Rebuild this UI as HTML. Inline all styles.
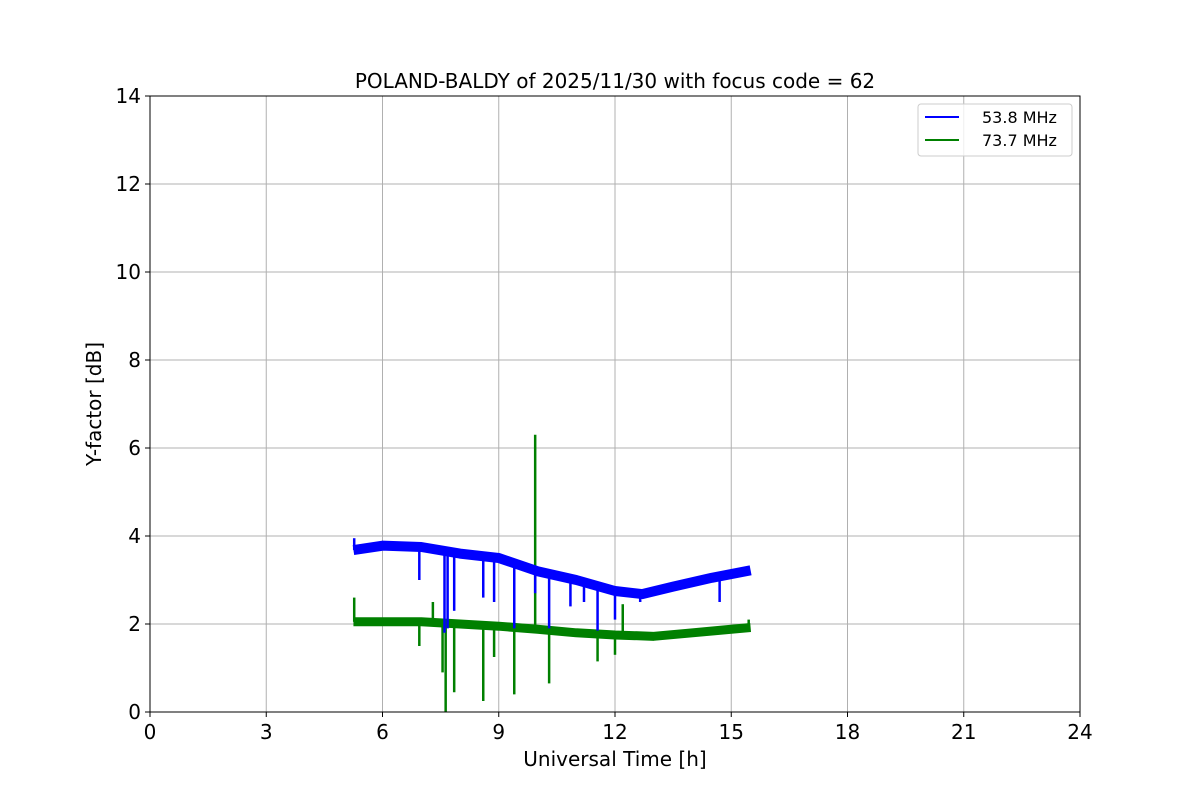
<!DOCTYPE html>
<html><head><meta charset="utf-8"><style>
body{margin:0;background:#fff;}
svg{font-family:"DejaVu Sans","Liberation Sans",sans-serif;display:block;}
</style></head><body>
<svg id="chart" width="1200" height="800">
<rect width="1200" height="800" fill="#fff"/>
<g id="grid"></g><g id="series"></g><g id="axes"></g>
<rect x="150" y="96" width="930" height="616" fill="none" stroke="#000" stroke-width="1"/>
<text x="615" y="88" text-anchor="middle" font-size="20">POLAND-BALDY of 2025/11/30 with focus code = 62</text>
<text x="615" y="766" text-anchor="middle" font-size="20">Universal Time [h]</text>
<text transform="translate(101,404) rotate(-90)" text-anchor="middle" font-size="20">Y-factor [dB]</text>
<g>
<rect x="918" y="104" width="154" height="52" rx="3" fill="#fff" fill-opacity="0.8" stroke="#ccc"/>
<line x1="925" y1="117" x2="959" y2="117" stroke="#0000ff" stroke-width="2"/>
<text x="982" y="123" font-size="16">53.8 MHz</text>
<line x1="925" y1="140" x2="959" y2="140" stroke="#008000" stroke-width="2"/>
<text x="982" y="146" font-size="16">73.7 MHz</text>
</g>
</svg>
<script>
const xTicks=[0,3,6,9,12,15,18,21,24];
const yTicks=[0,2,4,6,8,10,12,14];
const blueT=[5.25,6,7,8,9,10,11,12,12.7,13.5,14.5,15.5];
const blueV=[3.68,3.78,3.75,3.6,3.5,3.2,3.0,2.75,2.68,2.85,3.05,3.22];
const greenT=[5.25,6,7,8,9,10,11,12,13,14,15,15.5];
const greenV=[2.05,2.05,2.05,2.0,1.95,1.88,1.8,1.75,1.72,1.8,1.88,1.92];
const blueDipT=[5.27,6.95,7.6,7.68,7.85,8.6,8.88,9.4,9.94,10.3,10.85,11.2,11.55,12.0,12.65,14.7];
const blueDipV=[3.95,3.0,1.8,1.9,2.3,2.6,2.5,1.9,2.7,1.9,2.4,2.5,1.85,2.1,2.5,2.5];
const greenSpkT=[5.27,6.95,7.3,7.55,7.63,7.85,8.6,8.88,9.4,9.94,10.3,11.55,12.0,12.2,15.45];
const greenSpkV=[2.6,1.5,2.5,0.9,0.0,0.45,0.25,1.25,0.4,6.3,0.65,1.15,1.3,2.45,2.1];
const X0=150,X1=1080,Y0=712,Y1=96;
const sx=t=>X0+(X1-X0)*t/24, sy=v=>Y0-(Y0-Y1)*v/14;
const NS='http://www.w3.org/2000/svg';
function mk(tag,attrs,parent){const e=document.createElementNS(NS,tag);for(const k in attrs)e.setAttribute(k,attrs[k]);parent.appendChild(e);return e;}
const grid=document.getElementById('grid'),ser=document.getElementById('series'),ax=document.getElementById('axes');
xTicks.forEach(t=>{
 const l=mk('line',{x1:sx(t),x2:sx(t),y1:Y1,y2:Y0,stroke:'#b0b0b0','stroke-width':1},grid);
 
 mk('line',{x1:sx(t),x2:sx(t),y1:Y0,y2:Y0+5,stroke:'#000'},ax);
 const tx=mk('text',{x:sx(t),y:Y0+27,'text-anchor':'middle','font-size':20},ax);tx.textContent=t;
 
});
yTicks.forEach(v=>{
 const l=mk('line',{x1:X0,x2:X1,y1:sy(v),y2:sy(v),stroke:'#b0b0b0','stroke-width':1},grid);
 
 mk('line',{x1:X0-5,x2:X0,y1:sy(v),y2:sy(v),stroke:'#000'},ax);
 const tx=mk('text',{x:X0-9,y:sy(v)+7,'text-anchor':'end','font-size':20},ax);tx.textContent=v;
 
});
function band(T,V,col,w,name){
 const p=mk('polyline',{points:T.map((t,i)=>sx(t)+','+sy(V[i])).join(' '),fill:'none',stroke:col,'stroke-width':w,'stroke-linejoin':'round','stroke-linecap':'butt'},ser);
 
}
function interp(T,V,t){for(let i=0;i<T.length-1;i++){if(t<=T[i+1])return V[i]+(V[i+1]-V[i])*(t-T[i])/(T[i+1]-T[i]);}return V[V.length-1];}
band(greenT,greenV,'#008000',9,'series-73-7-mhz');
greenSpkT.forEach((t,i)=>{const l=mk('line',{x1:sx(t),x2:sx(t),y1:sy(interp(greenT,greenV,t)),y2:sy(greenSpkV[i]),stroke:'#008000','stroke-width':2.5},ser);
 });
band(blueT,blueV,'#0000ff',10,'series-53-8-mhz');
blueDipT.forEach((t,i)=>{const l=mk('line',{x1:sx(t),x2:sx(t),y1:sy(interp(blueT,blueV,t)),y2:sy(blueDipV[i]),stroke:'#0000ff','stroke-width':2.5},ser);
 });
</script>
</body></html>
